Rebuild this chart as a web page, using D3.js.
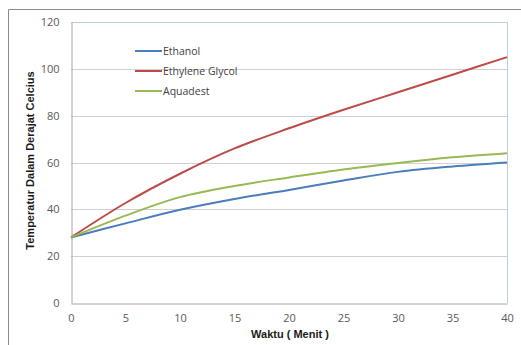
<!DOCTYPE html>
<html><head><meta charset="utf-8">
<script src="https://cdn.jsdelivr.net/npm/d3@7"></script>
<style>body{margin:0;background:#fff}svg{display:block}</style>
</head><body>
<script>
const times = [0, 5, 10, 15, 20, 25, 30, 35, 40];
const ethanol = [28, 34, 39.8, 44.4, 48.3, 52.3, 56, 58.3, 60];
const ethyleneGlycol = [28, 42.7, 55.2, 66, 74.6, 82.5, 90, 97.5, 105];
const aquadest = [28, 37.3, 45.2, 50, 53.6, 57, 59.8, 62.2, 64];
const seriesNames = ["Ethanol", "Ethylene Glycol", "Aquadest"];
const seriesColors = ["#4a7ebb", "#be4b48", "#98b954"];
const xTicks = [0, 5, 10, 15, 20, 25, 30, 35, 40];
const yTicks = [0, 20, 40, 60, 80, 100, 120];
const xTitle = "Waktu ( Menit )";
const yTitle = "Temperatur Dalam Derajat Celcius";

const W = 521, H = 345;
const svg = d3.select("body").append("svg").attr("width", W).attr("height", H);
// outer chart border
svg.append("path").attr("d", `M8.5,${H} V9.5 H${W}`).attr("fill","none").attr("stroke","#8c8c8c").attr("stroke-width",1);

const L = 71, R = 507, T = 22, B = 303;
const x = d3.scaleLinear().domain([0, 40]).range([L, R]);
const y = d3.scaleLinear().domain([0, 120]).range([B, T]);

// gridlines
svg.append("g").selectAll("line").data(yTicks.filter(d => d > 0 && d < 120)).join("line")
  .attr("x1", L).attr("x2", R).attr("y1", d => Math.round(y(d)) + 0.5).attr("y2", d => Math.round(y(d)) + 0.5)
  .attr("stroke", "#d0d0d0").attr("stroke-width", 1);
// plot area border top/right
svg.append("path").attr("d", `M${L},${T+0.5} H${R+0.5} V${B}`).attr("fill","none").attr("stroke","#b9cde5").attr("stroke-width",1);

// axes
const yAxis = svg.append("g").attr("transform", `translate(${L+0.5},0)`)
  .call(d3.axisLeft(y).tickValues(yTicks).tickSize(0).tickPadding(12));
const xAxis = svg.append("g").attr("transform", `translate(0,${B+0.5})`)
  .call(d3.axisBottom(x).tickValues(xTicks).tickSize(0).tickPadding(11));
[yAxis, xAxis].forEach(g => {
  g.select(".domain").attr("stroke", "#a6a6a6");
  g.selectAll("text").attr("fill", "#595959").style("font-family", "Open Sans, sans-serif").style("font-size", "11px");
});

// lines
const data = [ethanol, ethyleneGlycol, aquadest];
const line = d3.line().x((d, i) => x(times[i])).y(d => y(d)).curve(d3.curveCatmullRom.alpha(0.5));
svg.append("g").selectAll("path").data(data).join("path")
  .attr("d", d => line(d)).attr("fill", "none")
  .attr("stroke", (d, i) => seriesColors[i]).attr("stroke-width", 2);

// legend
const lg = svg.append("g").selectAll("g").data(seriesNames).join("g")
  .attr("transform", (d, i) => `translate(135,${51 + i * 20})`);
lg.append("line").attr("x1", 0).attr("x2", 27).attr("y1", 0).attr("y2", 0)
  .attr("stroke", (d, i) => seriesColors[i]).attr("stroke-width", 2);
lg.append("text").attr("x", 28).attr("y", 0).attr("dy", "0.35em").text(d => d)
  .attr("fill", "#404040").style("font-family", "Open Sans, sans-serif").style("font-size", "10.5px");

// titles
svg.append("text").attr("x", 290).attr("y", 338).attr("text-anchor", "middle").text(xTitle)
  .attr("fill", "#1a1a1a").style("font-family", "Liberation Sans Narrow, Arial Narrow, sans-serif").style("font-weight", "bold").style("font-size", "11px");
svg.append("text").attr("transform", `translate(34,${(T + B) / 2 - 2}) rotate(-90)`).attr("text-anchor", "middle").text(yTitle)
  .attr("fill", "#1a1a1a").style("font-family", "Liberation Sans Narrow, Arial Narrow, sans-serif").style("font-weight", "bold").style("font-size", "11px");
</script>
</body></html>
